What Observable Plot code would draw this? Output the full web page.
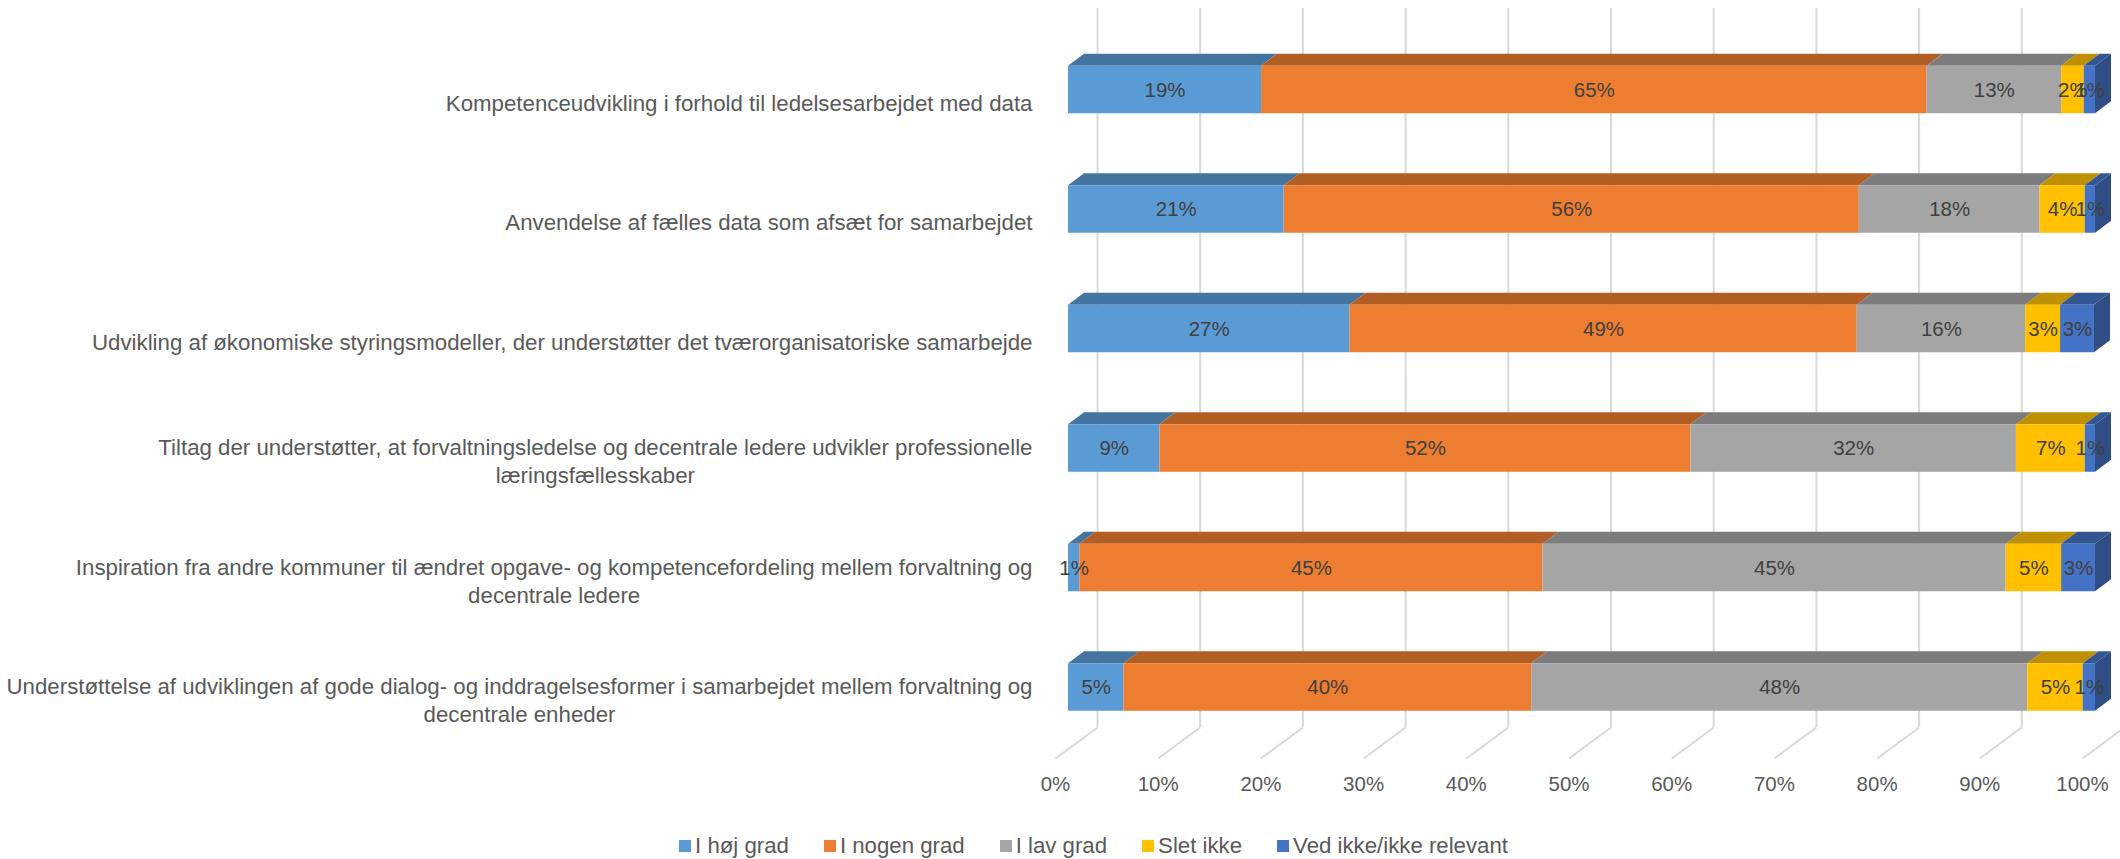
<!DOCTYPE html>
<html><head><meta charset="utf-8">
<script src="https://cdn.jsdelivr.net/npm/d3@7"></script>
<script src="https://cdn.jsdelivr.net/npm/@observablehq/plot@0.6"></script>
<style>
body{margin:0;background:#fff;}
#chart svg{display:block;}
#legend{display:flex;justify-content:center;align-items:center;height:72px;padding-left:67px;box-sizing:border-box;color:#595959;font-family:"Liberation Sans",Arial,sans-serif;}
#legend .item{display:flex;align-items:center;margin-right:35px;}
#legend .item:last-child{margin-right:0;}
#legend .sw{width:12px;height:12px;margin-right:4px;}
</style></head><body>
<div id="chart"></div>
<div id="legend"></div>
<script>
// ---- data ----
const categories = [
  "Kompetenceudvikling i forhold til ledelsesarbejdet med data",
  "Anvendelse af fælles data som afsæt for samarbejdet",
  "Udvikling af økonomiske styringsmodeller, der understøtter det tværorganisatoriske samarbejde",
  "Tiltag der understøtter, at forvaltningsledelse og decentrale ledere udvikler professionelle\nlæringsfællesskaber",
  "Inspiration fra andre kommuner til ændret opgave- og kompetencefordeling mellem forvaltning og\ndecentrale ledere",
  "Understøttelse af udviklingen af gode dialog- og inddragelsesformer i samarbejdet mellem forvaltning og\ndecentrale enheder"
];
const seriesNames = ["I høj grad", "I nogen grad", "I lav grad", "Slet ikke", "Ved ikke/ikke relevant"];
const hojGrad   = [18.8, 21.0, 27.4,  8.9,  1.1,  5.4];
const nogenGrad = [64.8, 56.0, 49.4, 51.7, 45.1, 39.7];
const lavGrad   = [13.1, 17.6, 16.4, 31.7, 45.1, 48.3];
const sletIkke  = [ 2.2,  4.4,  3.4,  6.7,  5.4,  5.4];
const vedIkke   = [ 1.1,  1.0,  3.3,  1.0,  3.3,  1.2];
const tickValues = [0, 10, 20, 30, 40, 50, 60, 70, 80, 90, 100];

// ---- styles ----
const colors = ["#5b9bd5", "#ed7d31", "#a5a5a5", "#ffc000", "#4472c4"];
const shade = (c, k) => { const r = d3.rgb(c); return d3.rgb(r.r * k, r.g * k, r.b * k).formatHex(); };
const FONT = '"Liberation Sans", Arial, sans-serif';
const ctx = document.createElement("canvas").getContext("2d");
function measure(t, size) { ctx.font = `${size}px ${FONT}`; return ctx.measureText(t).width; }
const catSize = 20 * 587 / measure(categories[0], 20);
const valSize = 20 * 41 / measure("49%", 20);
const legSize = 20 * 215 / measure("Ved ikke/ikke relevant", 20);

// ---- layout ----
const W = 2120, H = 810;
const mLeft = 1068, mRight = 25, mTop = 0, mBottom = 52;
const pxX = (W - mLeft - mRight) / 100;      // px per percent
const rowPx = 119.5, firstRow = 89.5;          // px per row, first row centre
const yMin = -firstRow / rowPx, yMax = (H - mBottom - firstRow) / rowPx;
const half = 23.75 / rowPx;                    // half bar thickness
const depthX = 16 / pxX, depthY = 12 / rowPx;  // 3D depth offset
const gridTop = (8 - firstRow) / rowPx, gridBack = (727 - firstRow) / rowPx;

const seriesVals = [hojGrad, nogenGrad, lavGrad, sletIkke, vedIkke];
const segs = [];
categories.forEach((c, i) => {
  let acc = 0;
  seriesVals.forEach((arr, s) => {
    const v = arr[i];
    segs.push({row: i, s, v, x1: acc, x2: acc + v});
    acc += v;
  });
});
const topFaces = segs.flatMap(d => [
  {key: d.row + "-" + d.s, s: d.s, y: d.row - half, x1: d.x1, x2: d.x2},
  {key: d.row + "-" + d.s, s: d.s, y: d.row - half - depthY, x1: d.x1 + depthX, x2: d.x2 + depthX}
]);
const lastSegs = segs.filter(d => d.s === 4);
const sideFaces = lastSegs.flatMap(d => [
  {key: d.row, x: d.x2, y1: d.row - half, y2: d.row + half},
  {key: d.row, x: d.x2 + depthX, y1: d.row - half - depthY, y2: d.row + half - depthY}
]);
const catData = categories.map((c, i) => {
  const w = d3.max(c.split("\n"), l => measure(l, catSize));
  return {label: c, row: i, x: -(36 + w / 2) / pxX};
});

const chart = Plot.plot({
  width: W, height: H,
  marginLeft: mLeft, marginRight: mRight, marginTop: mTop, marginBottom: mBottom,
  style: {fontFamily: FONT, background: "#fff", overflow: "visible"},
  x: {type: "linear", domain: [0, 100]},
  y: {type: "linear", domain: [yMin, yMax], reverse: true, axis: null},
  color: {domain: [0, 1, 2, 3, 4], range: colors},
  marks: [
    Plot.ruleX(tickValues, {x: d => d, y1: gridTop, y2: gridBack, dx: 29, stroke: "#d9d9d9", strokeWidth: 2}),
    Plot.link(tickValues, {x1: d => d + 29 / pxX, y1: gridBack, x2: d => d - 13 / pxX, y2: yMax, stroke: "#d9d9d9", strokeWidth: 2}),
    Plot.axisX(tickValues, {tickSize: 0, tickPadding: 18, dx: -13, tickFormat: d => d + "%", fill: "#595959", fontSize: valSize, label: null}),
    Plot.areaX(topFaces, {x1: "x1", x2: "x2", y: "y", z: "key", fill: d => shade(colors[d.s], 0.75)}),
    Plot.areaY(sideFaces, {x: "x", y1: "y1", y2: "y2", z: "key", fill: shade(colors[4], 0.68)}),
    Plot.rect(segs, {x1: "x1", x2: "x2", y1: d => d.row - half, y2: d => d.row + half, fill: d => colors[d.s]}),
    Plot.text(segs, {x: d => (d.x1 + d.x2) / 2, y: "row", text: d => Math.round(d.v) + "%", fill: "#404040", fontSize: valSize}),
    Plot.text(catData, {x: "x", y: "row", dy: 12, text: "label", textAnchor: "middle", lineAnchor: "middle", lineHeight: 28 / catSize, fill: "#595959", fontSize: catSize})
  ]
});
document.getElementById("chart").appendChild(chart);

const legend = document.getElementById("legend");
legend.style.fontSize = legSize + "px";
seriesNames.forEach((n, i) => {
  const it = document.createElement("div"); it.className = "item";
  const sw = document.createElement("div"); sw.className = "sw"; sw.style.background = colors[i];
  const tx = document.createElement("span"); tx.textContent = n;
  it.appendChild(sw); it.appendChild(tx); legend.appendChild(it);
});
</script>
</body></html>
